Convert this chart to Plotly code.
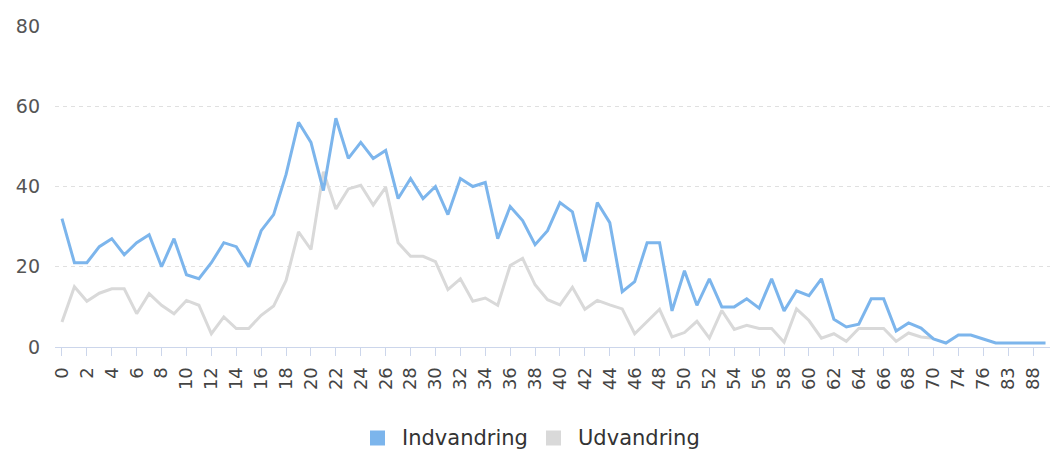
import plotly.graph_objects as go

ages = [str(a) for a in range(0, 71)] + ["72", "74", "75", "76", "80", "83", "86", "88", "91"]

indvandring = [32, 21, 21, 25, 27, 23, 26, 28, 20, 27,
               18, 17, 21, 26, 25, 20, 29, 33, 43, 56,
               51, 39, 57, 47, 51, 47, 49, 37, 42, 37,
               40, 33, 42, 40, 41, 27, 35, 31.5, 25.5, 29,
               36, 33.7, 21.3, 36, 31, 13.8, 16.3, 26, 26, 9,
               19, 10.4, 17, 10, 10, 12, 9.7, 17, 9, 14,
               12.8, 17, 6.9, 5, 5.7, 12, 12, 4, 6, 4.7,
               2, 1, 3, 3, 2, 1, 1, 1, 1, 1]

udvandring = [6.2, 15, 11.4, 13.4, 14.5, 14.5, 8.3, 13.3, 10.4, 8.3,
              11.6, 10.4, 3.3, 7.5, 4.6, 4.6, 7.9, 10.2, 16.6, 28.7,
              24.3, 43.7, 34.4, 39.4, 40.3, 35.4, 39.8, 26, 22.6, 22.6,
              21.3, 14.3, 17, 11.4, 12.2, 10.4, 20.3, 22.1, 15.5, 11.8,
              10.5, 14.9, 9.4, 11.6, 10.5, 9.5, 3.3, 6.4, 9.4, 2.5,
              3.6, 6.4, 2.2, 9.1, 4.4, 5.4, 4.6, 4.6, 1.2, 9.5,
              6.6, 2.2, 3.3, 1.4, 4.6, 4.6, 4.6, 1.4, 3.5, 2.5,
              2.2, None, None, None, None, None, None, None, None, None]

series_names = ["Indvandring", "Udvandring"]
y_ticks = [0, 20, 40, 60, 80]

BLUE = "#7cb5ec"
GRAY = "#d9d9d9"
FONT = "DejaVu Sans, Verdana, sans-serif"

W, H = 1050, 451
ML, MR, MT, MB = 55, 0, 26, 104
PW, PH = W - ML - MR, H - MT - MB


def px_x(px):
    return (px - ML) / PW


def px_y(py):
    return (H - MB - py) / PH


idx = list(range(len(ages)))
tick_idx = idx[::2]

fig = go.Figure()
fig.add_trace(go.Scatter(x=idx, y=udvandring, mode="lines", name=series_names[1],
                         line=dict(color=GRAY, width=3), connectgaps=False))
fig.add_trace(go.Scatter(x=idx, y=indvandring, mode="lines", name=series_names[0],
                         line=dict(color=BLUE, width=3)))

# legend drawn by hand (square symbols) so it does not push the margins
legend_items = [(series_names[0], BLUE, 370, 402), (series_names[1], GRAY, 546, 578)]
ly = 438
for name, col, sq_x, tx in legend_items:
    fig.add_shape(type="rect", xref="paper", yref="paper",
                  x0=px_x(sq_x), x1=px_x(sq_x + 15), y0=px_y(ly + 7.5), y1=px_y(ly - 7.5),
                  fillcolor=col, line=dict(width=0), layer="above")
    fig.add_annotation(xref="paper", yref="paper", x=px_x(tx - 2), y=px_y(ly),
                       xanchor="left", yanchor="middle", text=name, showarrow=False,
                       font=dict(family=FONT, size=21, color="#333333"))

fig.update_layout(
    width=W, height=H,
    margin=dict(l=ML, r=MR, t=MT, b=MB),
    paper_bgcolor="white", plot_bgcolor="white",
    font=dict(family=FONT, color="#555555"),
    showlegend=False,
    xaxis=dict(
        range=[-0.56, 79.36], automargin=False,
        tickmode="array", tickvals=tick_idx, ticktext=[ages[i] for i in tick_idx],
        tickangle=-90, tickfont=dict(size=18, color="#444444"),
        showgrid=False, zeroline=False,
        showline=True, linecolor="#ccd6eb", linewidth=1,
        ticks="outside", ticklen=8, tickcolor="#ccd6eb", ticklabelstandoff=4,
    ),
    yaxis=dict(
        range=[0, 80], tickmode="array", tickvals=y_ticks, automargin=False,
        tickfont=dict(size=19, color="#555555"),
        showgrid=True, gridcolor="#e0e0e0", gridwidth=1, griddash="4px,4px",
        zeroline=False, showline=False, ticks="", ticklabelstandoff=14,
    ),
)

fig.write_html(
    "out.html",
    config={"displayModeBar": False},
    post_script="document.body.style.margin='0px';document.body.style.overflow='hidden';",
)
